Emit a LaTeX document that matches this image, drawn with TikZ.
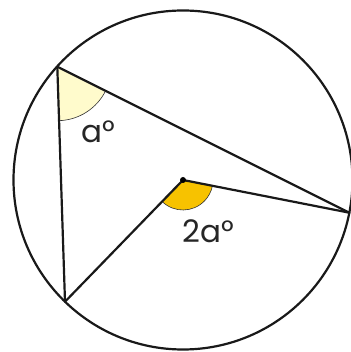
\documentclass[tikz,border=0pt]{standalone}
\usepackage{fontspec}
\setmainfont{Poppins}
\usepackage{xcolor}
\usepackage{tikz}
\usetikzlibrary{angles, calc}
\definecolor{paleyellow}{HTML}{FFFBCC}
\definecolor{deeporange}{HTML}{F7C200}
\tikzset{
    edge/.style={line width=2.2pt, draw=black!90, line cap=round, line join=round},
    insc/.style={draw=black!80, line width=0.6pt, fill=paleyellow, angle radius=54pt},
    cent/.style={draw=black!80, line width=0.6pt, fill=deeporange, angle radius=30pt},
    lbl/.style={font=\fontsize{31}{33}\selectfont, text=black!85, inner sep=0pt}
}
\begin{document}
\begin{tikzpicture}[x=1pt, y=1pt]
\useasboundingbox (0,0) rectangle (350,352);
\coordinate (O) at (183,172);
\coordinate (A) at (57.3,285.3);
\coordinate (B) at (65,50.3);
\coordinate (C) at (349.3,139.3);

% shaded angles
\pic[insc] {angle = B--A--C};
\pic[cent] {angle = B--O--C};

% circle and chords
\draw[edge] (O) circle (169.5);
\draw[edge] (A) -- (B);
\draw[edge] (A) -- (C);
\draw[edge] (O) -- (B);
\draw[edge] (O) -- (C);
\fill (O) circle (3);

% labels
\node[lbl] at (98,220) (la) {a°};
\node[lbl] at (208,121) (lb) {2a°};
\end{tikzpicture}
\end{document}
